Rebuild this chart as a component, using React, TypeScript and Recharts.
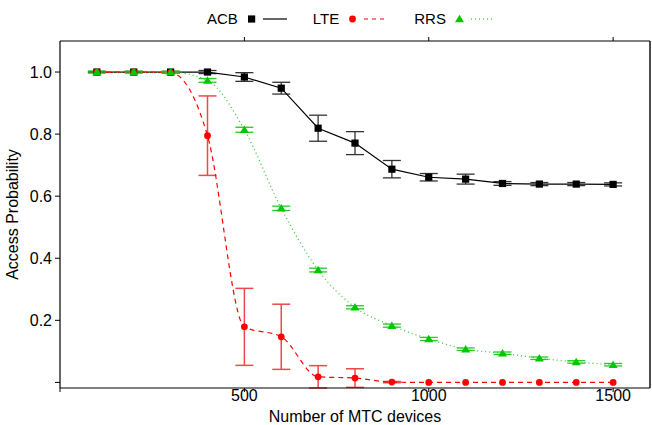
import React from 'react';
import { LineChart, Line, XAxis, YAxis, ErrorBar, Label, ReferenceLine } from 'recharts';

const devices = [100, 200, 300, 400, 500, 600, 700, 800, 900, 1000, 1100, 1200, 1300, 1400, 1500];

const acb = [1.0, 1.0, 1.0, 1.0, 0.984, 0.948, 0.819, 0.771, 0.687, 0.661, 0.655, 0.641, 0.639, 0.639, 0.638];
const acbErr = [0.002, 0.002, 0.002, 0.005, 0.014, 0.019, 0.042, 0.037, 0.028, 0.012, 0.016, 0.006, 0.005, 0.005, 0.005];

const lte = [1.0, 1.0, 0.998, 0.795, 0.179, 0.147, 0.018, 0.014, 0.001, 0.0, 0.0, 0.0, 0.0, 0.0, 0.0];
const lteErr = [0, 0, 0.002, 0.128, 0.124, 0.105, 0.036, 0.03, 0.002, 0, 0, 0, 0, 0, 0];

const rrs = [1.0, 1.0, 1.0, 0.973, 0.814, 0.561, 0.362, 0.242, 0.183, 0.14, 0.107, 0.094, 0.078, 0.066, 0.057];
const rrsErr = [0.003, 0.003, 0.003, 0.006, 0.008, 0.007, 0.006, 0.005, 0.005, 0.005, 0.004, 0.004, 0.004, 0.004, 0.004];

const xTicks = [0, 500, 1000, 1500];
const yTicks = [0, 0.2, 0.4, 0.6, 0.8, 1.0];
const X_MAX = 1600;

const data = devices.map((x, i) => ({
  x,
  acb: acb[i],
  acbErr: acbErr[i],
  lte: lte[i],
  lteErr: lteErr[i],
  rrs: rrs[i],
  rrsErr: rrsErr[i],
}));

const FONT = '"Liberation Sans", Arial, Helvetica, sans-serif';
const BLACK = '#000000';
const RED = '#ff0000';
const GREEN = '#00c800';

const SquareDot = (props: any) => {
  const { cx, cy, index } = props;
  if (cx == null || cy == null) return <g key={`sq-${index}`} />;
  return <rect key={`sq-${index}`} x={cx - 3.6} y={cy - 3.6} width={7.2} height={7.2} fill={BLACK} />;
};

const CircleDot = (props: any) => {
  const { cx, cy, index } = props;
  if (cx == null || cy == null) return <g key={`ci-${index}`} />;
  return <circle key={`ci-${index}`} cx={cx} cy={cy} r={3.4} fill={RED} />;
};

const TriangleDot = (props: any) => {
  const { cx, cy, index } = props;
  if (cx == null || cy == null) return <g key={`tr-${index}`} />;
  return (
    <polygon
      key={`tr-${index}`}
      points={`${cx},${cy - 4.2} ${cx - 4.5},${cy + 3.3} ${cx + 4.5},${cy + 3.3}`}
      fill={GREEN}
    />
  );
};

const legendItems = [
  { name: 'ACB', marker: 'square', color: BLACK, dash: undefined as string | undefined },
  { name: 'LTE', marker: 'circle', color: RED, dash: '4 4' },
  { name: 'RRS', marker: 'triangle', color: GREEN, dash: '1 3' },
];

// legend sits above the frame, drawn outside the chart so it doesn't eat plot space
const TopLegend = () => (
  <div
    style={{
      position: 'absolute',
      top: 10,
      left: 207,
      display: 'flex',
      alignItems: 'center',
      fontFamily: FONT,
      fontSize: 15,
      color: '#000',
      lineHeight: '18px',
    }}
  >
    {legendItems.map((it) => (
      <div key={it.name} style={{ display: 'flex', alignItems: 'center', marginRight: 26 }}>
        <span style={{ marginRight: 9 }}>{it.name}</span>
        <svg width={40} height={12}>
          {it.marker === 'square' && <rect x={1} y={2.4} width={7.2} height={7.2} fill={it.color} />}
          {it.marker === 'circle' && <circle cx={4.5} cy={6} r={3.4} fill={it.color} />}
          {it.marker === 'triangle' && <polygon points="4.5,1.8 0,9.3 9,9.3" fill={it.color} />}
          <line x1={16} x2={40} y1={6} y2={6} stroke={it.color} strokeWidth={1.2} strokeDasharray={it.dash} />
        </svg>
      </div>
    ))}
  </div>
);

const YTitle = (props: any) => {
  const vb = props.viewBox || { x: 0, y: 0, width: 60, height: 0 };
  const cx = vb.x + 18;
  const cy = vb.y + vb.height / 2;
  return (
    <text
      x={cx}
      y={cy}
      transform={`rotate(-90, ${cx}, ${cy})`}
      textAnchor="middle"
      fontFamily={FONT}
      fontSize={16}
      fill="#000"
    >
      Access Probability
    </text>
  );
};

export default function App() {
  const tickStyle = { fontFamily: FONT, fontSize: 16, fill: '#000' };
  return (
    <div style={{ position: 'absolute', left: 0, top: 0, width: 652, height: 425, background: '#fff' }}>
      <LineChart width={652} height={425} data={data} margin={{ top: 40, right: 2, left: 0, bottom: 0 }}>
        <XAxis
          xAxisId="bottom"
          dataKey="x"
          type="number"
          domain={[0, X_MAX]}
          ticks={xTicks}
          tickFormatter={(v: number) => (v === 0 ? '' : String(v))}
          tick={tickStyle}
          tickSize={4}
          tickMargin={-2}
          height={37}
          stroke={BLACK}
          axisLine={{ stroke: BLACK, strokeWidth: 1.2 }}
        >
          <Label value="Number of MTC devices" position="insideBottom" offset={3} style={{ fontFamily: FONT, fontSize: 16, fill: '#000' }} />
        </XAxis>
        <XAxis
          xAxisId="top"
          dataKey="x"
          type="number"
          orientation="top"
          domain={[0, X_MAX]}
          ticks={[500, 1000, 1500]}
          tickFormatter={() => ''}
          tickSize={4}
          height={1}
          stroke={BLACK}
          axisLine={{ stroke: BLACK, strokeWidth: 1.2 }}
        />
        <YAxis
          yAxisId="left"
          type="number"
          domain={[0, 1.1]}
          ticks={yTicks}
          tickFormatter={(v: number) => (v === 0 ? '' : v.toFixed(1))}
          tick={tickStyle}
          tickSize={5}
          tickMargin={3}
          width={60}
          stroke={BLACK}
          axisLine={{ stroke: BLACK, strokeWidth: 1.2 }}
          label={<YTitle />}
        />
        {/* right edge of the frame */}
        <ReferenceLine
          xAxisId="bottom"
          yAxisId="left"
          x={X_MAX}
          stroke={BLACK}
          strokeWidth={1.4}
          ifOverflow="visible"
        />
        <Line
          xAxisId="bottom"
          yAxisId="left"
          type="linear"
          dataKey="acb"
          name="ACB"
          stroke={BLACK}
          strokeWidth={1.2}
          dot={SquareDot}
          activeDot={false}
          isAnimationActive={false}
        >
          <ErrorBar dataKey="acbErr" direction="y" width={9} stroke="#333" strokeWidth={1.3} />
        </Line>
        <Line
          xAxisId="bottom"
          yAxisId="left"
          type="monotone"
          dataKey="lte"
          name="LTE"
          stroke={RED}
          strokeWidth={1.2}
          strokeDasharray="5 4"
          dot={CircleDot}
          activeDot={false}
          isAnimationActive={false}
        >
          <ErrorBar dataKey="lteErr" direction="y" width={9} stroke="#f04848" strokeWidth={1.5} />
        </Line>
        <Line
          xAxisId="bottom"
          yAxisId="left"
          type="monotone"
          dataKey="rrs"
          name="RRS"
          stroke="#33cc33"
          strokeWidth={1.3}
          strokeDasharray="1 3"
          dot={TriangleDot}
          activeDot={false}
          isAnimationActive={false}
        >
          <ErrorBar dataKey="rrsErr" direction="y" width={9} stroke="#22cc22" strokeWidth={1.3} />
        </Line>
      </LineChart>
      <TopLegend />
    </div>
  );
}
